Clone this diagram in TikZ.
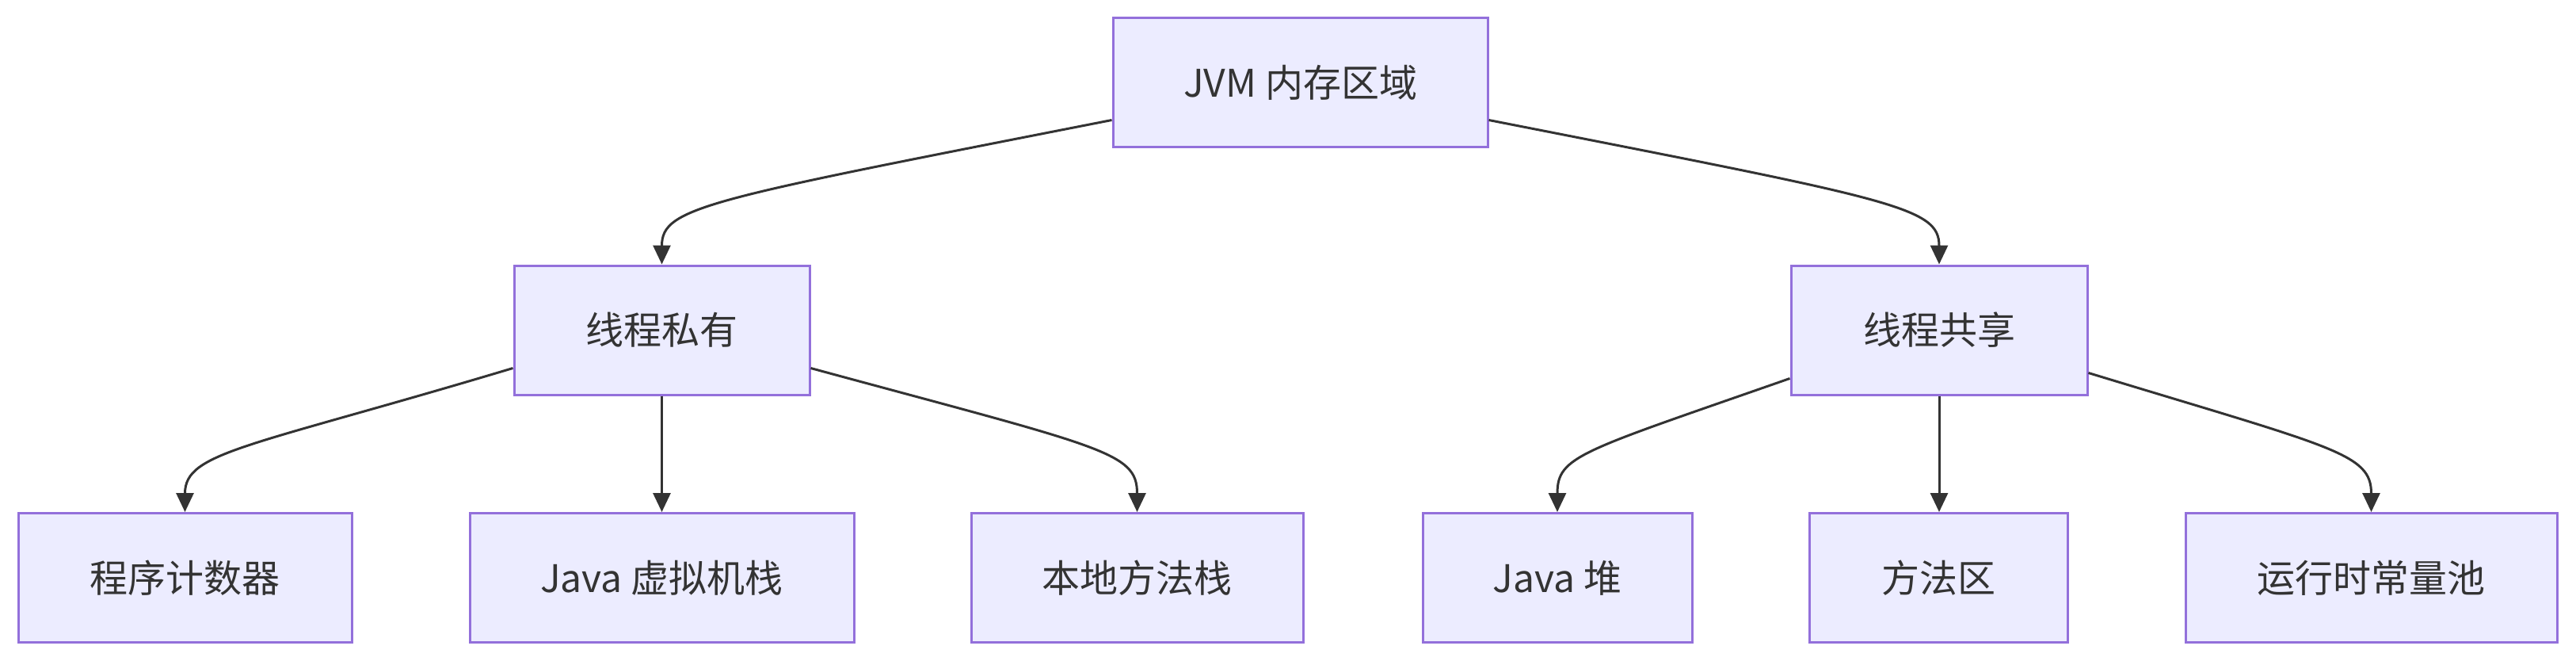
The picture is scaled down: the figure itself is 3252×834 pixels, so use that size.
\documentclass[tikz,border=0pt]{standalone}
\usepackage{fontspec}
\setmainfont{Noto Sans CJK SC}
\usetikzlibrary{arrows.meta,calc}
\definecolor{nodefill}{HTML}{ECECFF}
\definecolor{nodeborder}{HTML}{9370DB}
\definecolor{edgecol}{HTML}{333333}
\definecolor{txtcol}{HTML}{333333}
\tikzset{
  box/.style={draw=nodeborder, fill=nodefill, line width=3pt, minimum height=163pt, inner sep=0pt,
    text=txtcol, font=\fontsize{48}{56}\selectfont},
  edge/.style={draw=edgecol, line width=3pt, -{Triangle[length=24pt,width=22pt]}},
}
\begin{document}
\begin{tikzpicture}[x=1pt,y=-1pt]
\useasboundingbox (0,0) rectangle (3252,834);
\node[box, minimum width=473pt] (jvm) at (1641.5,104.5) {JVM 内存区域};
\node[box, minimum width=373pt] (priv) at (835.5,416.5) {线程私有};
\node[box, minimum width=374pt] (shared) at (2448,416.5) {线程共享};
\node[box, minimum width=421pt] (pc) at (233.5,729) {程序计数器};
\node[box, minimum width=485pt] (jstack) at (835.5,729) {Java 虚拟机栈};
\node[box, minimum width=419pt] (nstack) at (1435.5,729) {本地方法栈};
\node[box, minimum width=340pt] (heap) at (1966,729) {Java 堆};
\node[box, minimum width=326pt] (method) at (2447,729) {方法区};
\node[box, minimum width=469pt] (pool) at (2993.5,729) {运行时常量池};

% JVM -> private / shared
\draw[edge] ($(jvm.west)+(0,47)$) .. controls (892,252) and (835.5,261) .. (priv.north);
\draw[edge] ($(jvm.east)+(0,47)$) .. controls (2391,252) and (2448,261) .. (shared.north);
% private -> children
\draw[edge] ($(priv.west)+(0,48)$) .. controls (312,565) and (233.5,570) .. (pc.north);
\draw[edge] (priv.south) -- (jstack.north);
\draw[edge] ($(priv.east)+(0,48)$) .. controls (1394,565) and (1435.5,570) .. (nstack.north);
% shared -> children
\draw[edge] ($(shared.west)+(0,61)$) .. controls (1995,570) and (1966,575) .. (heap.north);
\draw[edge] (shared.south) -- (shared.south |- method.north);
\draw[edge] ($(shared.east)+(0,54)$) .. controls (2947,565) and (2993.5,572) .. (pool.north);
\end{tikzpicture}
\end{document}
